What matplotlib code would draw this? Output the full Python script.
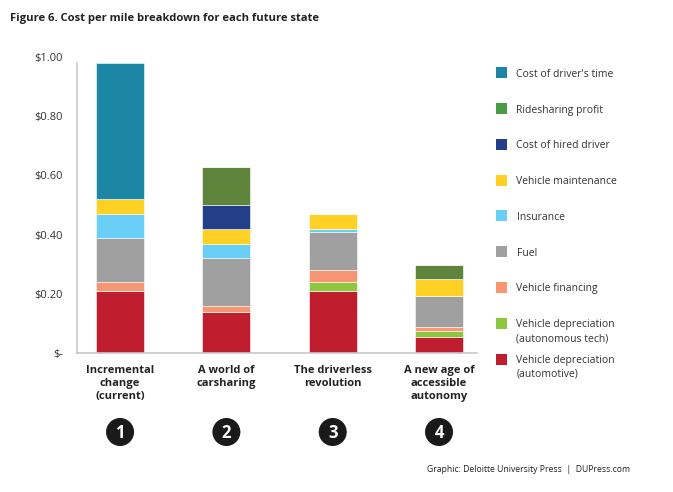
import numpy as np
import matplotlib
matplotlib.use("Agg")
import matplotlib.pyplot as plt
from matplotlib.patches import Rectangle, Circle

# categories (future states)
states = ["Incremental\nchange\n(current)", "A world of\ncarsharing",
          "The driverless\nrevolution", "A new age of\naccessible\nautonomy"]
state_nums = ["1", "2", "3", "4"]

# cost components, bottom to top ($ per mile)
dep_auto    = [0.21, 0.14, 0.21, 0.055]
dep_tech    = [0.0, 0.0, 0.03, 0.02]
financing   = [0.03, 0.02, 0.04, 0.014]
fuel        = [0.15, 0.16, 0.13, 0.105]
insurance   = [0.08, 0.05, 0.01, 0.0]
maintenance = [0.05, 0.05, 0.05, 0.055]
hired_drv   = [0.0, 0.08, 0.0, 0.0]
rideshare   = [0.0, 0.13, 0.0, 0.05]
drv_time    = [0.46, 0.0, 0.0, 0.0]

yticks = [0, 0.2, 0.4, 0.6, 0.8, 1.0]
ytick_labels = ["$-", "$0.20", "$0.40", "$0.60", "$0.80", "$1.00"]

series = [
    ("Vehicle depreciation\n(automotive)", dep_auto, "#be1e2d", "#be1e2d"),
    ("Vehicle depreciation\n(autonomous tech)", dep_tech, "#8dc63f", "#8dc63f"),
    ("Vehicle financing", financing, "#f79672", "#f79672"),
    ("Fuel", fuel, "#a0a0a0", "#a0a0a0"),
    ("Insurance", insurance, "#6acff6", "#6acff6"),
    ("Vehicle maintenance", maintenance, "#ffd125", "#ffd125"),
    ("Cost of hired driver", hired_drv, "#223f87", "#223f87"),
    ("Ridesharing profit", rideshare, "#5f843c", "#4a9a46"),
    ("Cost of driver's time", drv_time, "#1b87a4", "#1b87a4"),
]

W, H = 673, 492
fig = plt.figure(figsize=(W / 100, H / 100), dpi=100)
plt.rcParams['font.family'] = ['Open Sans', 'DejaVu Sans']

ax = fig.add_axes([77 / W, (H - 353.3) / H, (477 - 77) / W, 296.5 / H])
x = np.arange(len(states))
bottom = np.zeros(len(states))
for name, vals, col, lcol in series:
    v = np.array(vals)
    ax.bar(x, v, width=0.45, bottom=bottom, color=col, edgecolor='white',
           linewidth=0.4, zorder=2)
    bottom += v

ax.set_ylim(0, 1.0)
ax.set_xlim(-0.405, 3.357)
ax.set_yticks(yticks)
ax.set_yticklabels(ytick_labels, fontsize=8, color='#333333')
ax.set_xticks([])
ax.tick_params(axis='y', length=0, pad=10)
for s in ['top', 'right']:
    ax.spines[s].set_visible(False)
for s in ['left', 'bottom']:
    ax.spines[s].set_color('#c8c8c8')
    ax.spines[s].set_linewidth(1.2)
ax.spines['left'].set_bounds(0, 0.98)

# category labels and numbered circles
for i, lab in enumerate(states):
    ax.text(i, -0.04, lab, ha='center', va='top', fontsize=8, fontweight='bold',
            color='#222222', linespacing=1.25, transform=ax.get_xaxis_transform())
    xd = ax.transData.transform((i, 0))[0] / W
    fig.patches.append(Circle((xd * W, H - 432), 14, transform=None,
                              facecolor='#1a1a1a', edgecolor='none'))
    fig.text(xd, (H - 433) / H, state_nums[i], ha='center', va='center',
             fontsize=12, fontweight='bold', color='white')

# legend (top to bottom)
for k, (name, vals, col, lcol) in enumerate(series[::-1]):
    yc = 72.7 + k * 35.8
    fig.patches.append(Rectangle((496, H - yc - 5.5), 11, 11, transform=None,
                                 facecolor=lcol, edgecolor='none'))
    fig.text(516.5 / W, (H - yc + 4) / H, name, ha='left', va='top',
             fontsize=7.5, color='#333333', linespacing=1.35)

fig.text(10 / W, (H - 19) / H, "Figure 6. Cost per mile breakdown for each future state",
         ha='left', va='center', fontsize=8.1, fontweight='bold', color='#222222')
fig.text(427 / W, (H - 470) / H, "Graphic: Deloitte University Press  |  DUPress.com",
         ha='left', va='center', fontsize=6.2, color='#222222')

fig.savefig("out.png", dpi=100)
